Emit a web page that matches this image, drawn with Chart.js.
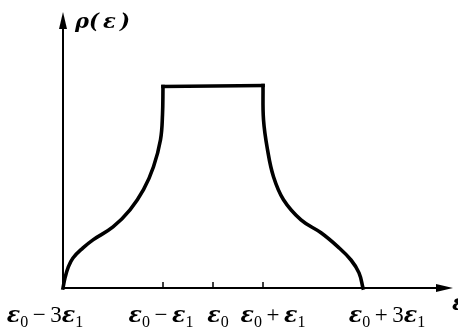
<!DOCTYPE html>
<html>
<head>
<meta charset="utf-8">
<script src="https://cdn.jsdelivr.net/npm/chart.js@4"></script>
<style>
  html, body { margin: 0; padding: 0; background: #fff; }
  canvas { display: block; }
</style>
</head>
<body>
<canvas id="dosChart" width="458" height="330"></canvas>
<script>
// density of states rho(eps), energy in units of eps1 measured from eps0
var leftX  = [-3, -2.96, -2.90, -2.80, -2.60, -2.40, -2.00, -1.66, -1.39, -1.19, -1.05, -1.01, -1.00];
var leftY  = [0, 0.05, 0.10, 0.149, 0.199, 0.239, 0.303, 0.388, 0.488, 0.602, 0.736, 0.86, 1.00];
var topX   = [-1.00, 1.00];
var topY   = [1.00, 1.005];
var rightX = [1.00, 1.01, 1.09, 1.21, 1.41, 1.76, 2.16, 2.50, 2.76, 2.92, 3.00];
var rightY = [1.005, 0.836, 0.687, 0.552, 0.438, 0.338, 0.274, 0.204, 0.139, 0.075, 0];

// axis ticks and their labels ("_" marks a one-char subscript)
var tickValues = [-3, -1, 0, 1, 3];
var tickLabels = ['ε_0\u2009−\u20093ε_1', 'ε_0\u2009−\u2009ε_1', 'ε_0', 'ε_0\u2009+\u2009ε_1', 'ε_0\u2009+\u20093ε_1'];
var markedTicks = [-1, 0, 1];
var yTitle = 'ρ(\u2009ε\u2009)';
var xTitle = 'ε';

function pts(xs, ys) {
  return xs.map(function (x, i) { return { x: x, y: ys[i] }; });
}

var GREEK = 'bold italic 22px "DejaVu Serif"';
var PLAIN = '23px "Liberation Serif"';
var SUB = '16px "Liberation Serif"';

// measures / draws a label like "ε_0+ε_1" with greek letters and subscripts
function fontFor(c) {
  return /[α-ω]/.test(c) ? GREEK : PLAIN;
}
function richWidth(ctx, s) {
  var w = 0;
  for (var i = 0; i < s.length; i++) {
    var c = s[i];
    if (c === '_') { ctx.font = SUB; w += ctx.measureText(s[i + 1]).width; i++; continue; }
    ctx.font = fontFor(c);
    w += ctx.measureText(c).width;
  }
  return w;
}
function drawRich(ctx, s, x, y) {
  for (var i = 0; i < s.length; i++) {
    var c = s[i];
    if (c === '_') {
      ctx.font = SUB;
      ctx.fillText(s[i + 1], x, y + 5);
      x += ctx.measureText(s[i + 1]).width;
      i++;
      continue;
    }
    ctx.font = fontFor(c);
    ctx.fillText(c, x, y);
    x += ctx.measureText(c).width;
  }
}

var labelShift = { '-3': -18, '-1': -2, '0': 5, '1': 10, '3': 24 };

var axesPlugin = {
  id: 'arrowAxes',
  afterDatasetsDraw: function (chart) {
    var ctx = chart.ctx;
    var xs = chart.scales.x, ys = chart.scales.y;
    var x0 = xs.getPixelForValue(xs.min);
    var y0 = ys.getPixelForValue(0);
    var xEnd = xs.getPixelForValue(xs.max);
    var yEnd = ys.getPixelForValue(ys.max);
    ctx.save();
    ctx.strokeStyle = '#000';
    ctx.fillStyle = '#000';
    ctx.lineWidth = 2;
    ctx.beginPath();
    ctx.moveTo(x0, y0);
    ctx.lineTo(x0, yEnd + 10);
    ctx.moveTo(x0, y0);
    ctx.lineTo(xEnd - 10, y0);
    ctx.stroke();
    // arrow heads
    ctx.beginPath();
    ctx.moveTo(x0, yEnd);
    ctx.lineTo(x0 - 4, yEnd + 17);
    ctx.lineTo(x0 + 4, yEnd + 17);
    ctx.closePath();
    ctx.fill();
    ctx.beginPath();
    ctx.moveTo(xEnd, y0);
    ctx.lineTo(xEnd - 17, y0 - 4);
    ctx.lineTo(xEnd - 17, y0 + 4);
    ctx.closePath();
    ctx.fill();
    // small tick marks
    ctx.lineWidth = 1.5;
    markedTicks.forEach(function (v) {
      var px = xs.getPixelForValue(v);
      ctx.beginPath();
      ctx.moveTo(px, y0);
      ctx.lineTo(px, y0 - 6);
      ctx.stroke();
    });
    // tick labels
    ctx.textBaseline = 'alphabetic';
    ctx.textAlign = 'left';
    tickValues.forEach(function (v, i) {
      var s = tickLabels[i];
      var cx = xs.getPixelForValue(v) + labelShift[String(v)];
      drawRich(ctx, s, cx - richWidth(ctx, s) / 2, 322);
    });
    // axis titles
    ctx.font = 'bold italic 21px "DejaVu Serif"';
    ctx.fillText(yTitle, x0 + 12, 28);
    ctx.font = GREEK;
    ctx.fillText(xTitle, xEnd - 1, 310);
    ctx.restore();
  }
};

var lineStyle = {
  borderColor: '#000',
  borderWidth: 3.6,
  pointRadius: 0,
  fill: false,
  borderCapStyle: 'square',
  borderJoinStyle: 'miter'
};

new Chart(document.getElementById('dosChart'), {
  type: 'line',
  data: {
    datasets: [
      Object.assign({ data: pts(leftX, leftY), tension: 0.4 }, lineStyle),
      Object.assign({ data: pts(topX, topY), tension: 0 }, lineStyle),
      Object.assign({ data: pts(rightX, rightY), tension: 0.4 }, lineStyle)
    ]
  },
  options: {
    responsive: false,
    animation: false,
    layout: { padding: { left: 63, right: 5, top: 12, bottom: 42 } },
    plugins: { legend: { display: false }, tooltip: { enabled: false } },
    scales: {
      x: { type: 'linear', min: -3, max: 4.8, display: false },
      y: { min: 0, max: 1.37, display: false }
    },
    datasets: { line: { clip: false } }
  },
  plugins: [axesPlugin]
});
</script>
</body>
</html>
